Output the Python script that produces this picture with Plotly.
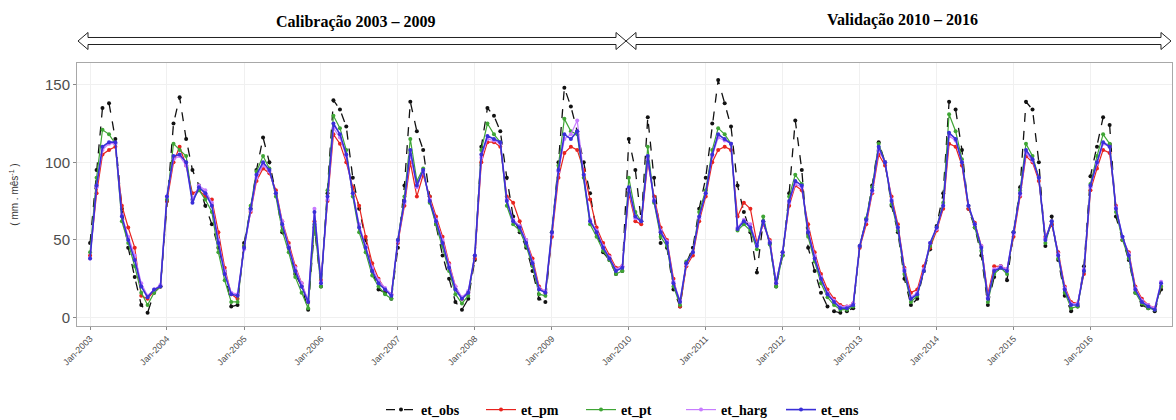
import pandas as pd
import plotly.graph_objects as go

# ---------------- data (monthly, Jan-2003 .. Dec-2016) ----------------
dates = pd.date_range("2003-01-01", periods=168, freq="MS")

et_obs = [
    48, 95, 135, 138, 115, 70, 45, 26, 8, 3, 16, 20,        # 2003
    75, 125, 142, 115, 95, 85, 72, 60, 45, 30, 7, 8,        # 2004
    48, 70, 95, 116, 100, 80, 55, 45, 28, 20, 5, 58,        # 2005
    20, 80, 140, 134, 123, 90, 70, 50, 30, 18, 16, 12,      # 2006
    45, 85, 139, 120, 108, 78, 60, 40, 25, 10, 5, 12,       # 2007
    37, 110, 135, 130, 120, 90, 65, 55, 45, 30, 12, 10,     # 2008
    55, 100, 148, 136, 120, 100, 80, 55, 42, 37, 28, 30,    # 2009
    115, 95, 62, 129, 90, 48, 45, 18, 7, 35, 45, 70,        # 2010
    90, 125, 153, 138, 123, 85, 68, 55, 29, 62, 48, 20,     # 2011
    40, 80, 127, 95, 45, 30, 16, 7, 4, 3, 4, 6,             # 2012
    46, 63, 85, 113, 100, 72, 55, 25, 8, 12, 30, 44,        # 2013
    59, 80, 139, 134, 108, 70, 58, 40, 8, 26, 33, 24,       # 2014
    55, 84, 139, 134, 100, 46, 65, 37, 14, 4, 7, 33,        # 2015
    91, 110, 129, 124, 65, 50, 37, 16, 8, 6, 4, 18,         # 2016
]

et_pm = [
    40, 80, 105, 108, 110, 72, 58, 45, 14, 12, 17, 20,
    75, 100, 110, 98, 80, 82, 78, 76, 55, 32, 15, 12,
    46, 68, 88, 96, 93, 82, 62, 48, 33, 22, 10, 62,
    24, 75, 118, 112, 100, 84, 72, 52, 35, 25, 18, 15,
    48, 72, 100, 78, 92, 78, 65, 52, 35, 20, 12, 16,
    38, 100, 113, 113, 110, 78, 74, 62, 50, 38, 20, 16,
    52, 90, 106, 110, 108, 95, 76, 58, 48, 40, 32, 33,
    80, 62, 60, 100, 78, 58, 50, 25, 7, 33, 40, 62,
    78, 100, 108, 110, 108, 65, 74, 70, 48, 60, 50, 22,
    42, 72, 85, 82, 60, 42, 28, 18, 12, 8, 7, 9,
    45, 60, 80, 105, 98, 78, 60, 32, 16, 18, 33, 45,
    56, 70, 112, 110, 98, 70, 61, 46, 15, 33, 33, 31,
    52, 78, 104, 100, 88, 52, 60, 42, 20, 10, 9, 28,
    82, 96, 108, 106, 72, 50, 42, 20, 12, 8, 6, 20,
]

et_pt = [
    42, 90, 121, 118, 112, 62, 48, 33, 16, 8, 16, 20,
    76, 112, 108, 104, 76, 82, 76, 68, 42, 24, 10, 10,
    46, 72, 94, 104, 96, 78, 56, 42, 26, 16, 6, 60,
    20, 82, 130, 122, 108, 78, 55, 42, 27, 20, 15, 12,
    50, 78, 115, 88, 96, 74, 60, 46, 30, 15, 9, 14,
    40, 108, 125, 118, 113, 72, 60, 56, 46, 33, 15, 14,
    55, 98, 128, 120, 118, 90, 60, 52, 43, 37, 28, 30,
    90, 68, 62, 110, 74, 52, 46, 20, 8, 36, 42, 68,
    82, 108, 122, 118, 112, 56, 60, 56, 44, 65, 47, 20,
    40, 78, 92, 86, 52, 36, 22, 13, 8, 5, 5, 7,
    46, 64, 84, 112, 100, 73, 56, 28, 10, 14, 30, 46,
    58, 74, 131, 120, 102, 72, 58, 43, 10, 28, 32, 28,
    55, 82, 112, 104, 90, 48, 62, 38, 16, 6, 7, 30,
    86, 104, 118, 112, 68, 50, 38, 16, 9, 6, 5, 20,
]

et_harg = [
    38, 84, 108, 112, 112, 66, 52, 40, 22, 14, 18, 21,
    78, 102, 104, 98, 76, 85, 82, 74, 50, 30, 16, 15,
    44, 69, 90, 98, 94, 80, 62, 46, 32, 22, 11, 70,
    23, 76, 122, 116, 104, 80, 60, 46, 32, 24, 19, 15,
    49, 74, 105, 84, 94, 76, 63, 50, 34, 20, 13, 17,
    40, 103, 115, 114, 112, 76, 63, 59, 50, 36, 19, 17,
    54, 94, 115, 118, 127, 92, 63, 56, 46, 39, 31, 33,
    82, 64, 62, 102, 76, 56, 49, 23, 11, 34, 42, 64,
    80, 104, 116, 114, 112, 58, 63, 60, 47, 61, 49, 23,
    42, 74, 86, 84, 56, 40, 26, 16, 11, 7, 7, 9,
    46, 62, 81, 108, 100, 76, 58, 31, 13, 16, 31, 48,
    57, 72, 117, 114, 100, 72, 60, 46, 13, 31, 33, 31,
    54, 79, 106, 101, 90, 51, 62, 41, 19, 9, 9, 31,
    84, 99, 112, 110, 71, 52, 41, 19, 11, 8, 6, 23,
]

et_ens = [
    38, 85, 110, 113, 113, 65, 50, 37, 20, 13, 18, 20,
    78, 104, 105, 100, 74, 84, 80, 72, 48, 28, 15, 14,
    45, 70, 92, 100, 95, 80, 60, 45, 30, 20, 10, 68,
    22, 78, 125, 118, 105, 80, 58, 45, 30, 22, 18, 14,
    50, 75, 108, 85, 95, 75, 62, 48, 32, 18, 12, 16,
    40, 105, 117, 115, 113, 75, 62, 58, 48, 35, 18, 16,
    55, 95, 118, 115, 120, 92, 62, 55, 45, 38, 30, 32,
    84, 65, 62, 104, 75, 55, 48, 22, 10, 35, 42, 65,
    80, 105, 118, 115, 112, 57, 62, 58, 46, 62, 48, 22,
    42, 75, 88, 85, 55, 38, 25, 15, 10, 6, 6, 8,
    46, 63, 82, 110, 100, 75, 58, 30, 12, 15, 30, 48,
    58, 72, 119, 115, 100, 72, 60, 45, 12, 30, 32, 30,
    55, 80, 108, 102, 90, 50, 62, 40, 18, 8, 8, 30,
    85, 100, 113, 110, 70, 52, 40, 18, 10, 7, 5, 22,
]

series_names = ["et_obs", "et_pm", "et_pt", "et_harg", "et_ens"]
series_values = [et_obs, et_pm, et_pt, et_harg, et_ens]
series_colors = ["#111111", "#E8231E", "#3FA535", "#C77CFF", "#3A2FD8"]
series_dash = ["dash", "solid", "solid", "solid", "solid"]
series_width = [1.3, 1.2, 1.2, 1.2, 1.6]

tick_years = list(range(2003, 2017))
tick_dates = [pd.Timestamp(f"{y}-01-01") for y in tick_years]
tick_text = [f"Jan-{y}" for y in tick_years]

period_labels = ["Calibração 2003 – 2009", "Validação 2010 – 2016"]
y_title = "( mm . mês<sup>-1</sup> )"

# ---------------- figure ----------------
fig = go.Figure()
for name, vals, col, dash, w in zip(series_names, series_values, series_colors,
                                    series_dash, series_width):
    fig.add_trace(go.Scatter(
        x=dates, y=vals, name=name, mode="lines+markers",
        line=dict(color=col, width=w, dash=dash),
        marker=dict(color=col, size=4),
    ))

W, H = 1176, 420
L, R, T, B = 77, 4, 63, 94
pw, ph = W - L - R, H - T - B


def px_x(px):
    return (px - L) / pw


def px_y(py):
    return (H - B - py) / ph


# hollow double-headed arrows above the panel
def arrow_path(x0, x1, yc, shaft=3.5, head=8.5, hl=10):
    pts = [
        (x0, yc), (x0 + hl, yc - head), (x0 + hl, yc - shaft),
        (x1 - hl, yc - shaft), (x1 - hl, yc - head), (x1, yc),
        (x1 - hl, yc + head), (x1 - hl, yc + shaft), (x0 + hl, yc + shaft),
        (x0 + hl, yc + head),
    ]
    return "M " + " L ".join(f"{px_x(a):.5f},{px_y(b):.5f}" for a, b in pts) + " Z"


shapes = [
    dict(type="path", xref="paper", yref="paper", path=arrow_path(78, 626, 41),
         line=dict(color="#222222", width=1), fillcolor="white"),
    dict(type="path", xref="paper", yref="paper", path=arrow_path(626, 1171, 41),
         line=dict(color="#222222", width=1), fillcolor="white"),
]

annotations = [
    dict(text=period_labels[0], xref="paper", yref="paper", x=px_x(356), y=px_y(22),
         xanchor="center", yanchor="middle", showarrow=False,
         font=dict(family="Liberation Serif", size=16, color="black", weight="bold")),
    dict(text=period_labels[1], xref="paper", yref="paper", x=px_x(902), y=px_y(20),
         xanchor="center", yanchor="middle", showarrow=False,
         font=dict(family="Liberation Serif", size=16, color="black", weight="bold")),
]

fig.update_layout(
    width=W, height=H,
    margin=dict(l=L, r=R, t=T, b=B),
    paper_bgcolor="white", plot_bgcolor="white",
    shapes=shapes, annotations=annotations,
    showlegend=True,
    legend=dict(orientation="h", x=px_x(631), xanchor="center",
                yref="container", y=(H - 410) / H, yanchor="middle",
                font=dict(family="Liberation Serif", size=14, color="black", weight="bold"),
                itemwidth=30, entrywidth=55, entrywidthmode="pixels",
                tracegroupgap=0, bgcolor="rgba(0,0,0,0)"),
    xaxis=dict(
        type="date",
        range=[pd.Timestamp("2002-10-31"), pd.Timestamp("2017-01-22")],
        tickvals=tick_dates, ticktext=tick_text, tickangle=-45,
        tickfont=dict(family="Liberation Sans", size=9, color="#4D4D4D"),
        showgrid=True, gridcolor="#F0F0F0", gridwidth=1,
        ticks="outside", ticklen=3, tickcolor="#888888",
        showline=True, linecolor="#A8A8A8", linewidth=1, mirror=True,
        zeroline=False,
    ),
    yaxis=dict(
        range=[-5.5, 164],
        tickvals=[0, 50, 100, 150],
        tickfont=dict(family="Liberation Sans", size=15, color="#4D4D4D"),
        showgrid=True, gridcolor="#F0F0F0", gridwidth=1,
        ticks="outside", ticklen=3, tickcolor="#888888",
        showline=True, linecolor="#A8A8A8", linewidth=1, mirror=True,
        zeroline=False,
        title=dict(text=y_title, standoff=24,
                   font=dict(family="Liberation Sans", size=10, color="#333333")),
    ),
)

fig.write_html("out.html")
